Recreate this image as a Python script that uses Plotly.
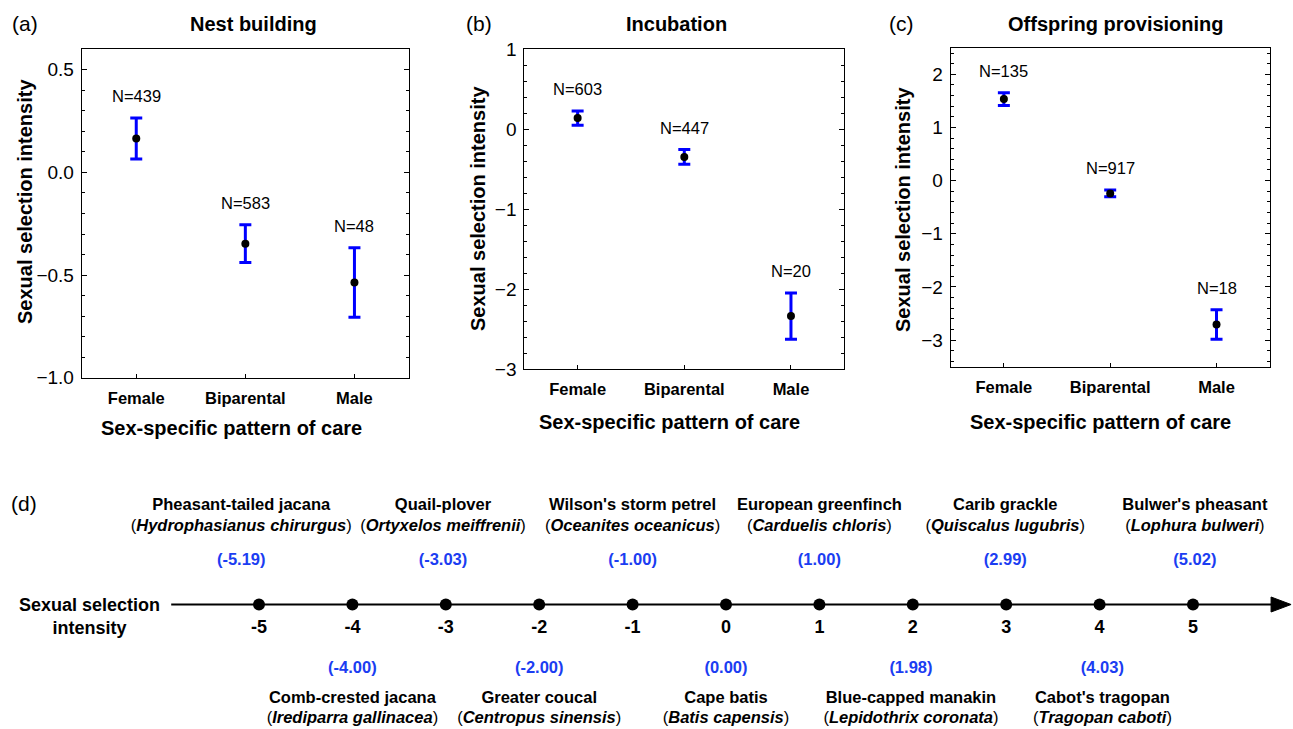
import plotly.graph_objects as go

W, H = 1293, 729
FONT = "Liberation Sans, Arial, Helvetica, sans-serif"
BLUE = "#0000ff"
TXT_BLUE = "#1b3df2"

# ---------------- data: panels (a)-(c) ----------------
categories = ["Female", "Biparental", "Male"]
cat_pos = [1, 2, 3]

nest_mean = [0.165, -0.347, -0.536]
nest_err = [0.100, 0.092, 0.169]
nest_n = [439, 583, 48]

incub_mean = [0.140, -0.345, -2.335]
incub_err = [0.090, 0.092, 0.290]
incub_n = [603, 447, 20]

prov_mean = [1.535, -0.240, -2.705]
prov_err = [0.120, 0.063, 0.278]
prov_n = [135, 917, 18]

panel_titles = ["Nest building", "Incubation", "Offspring provisioning"]
panel_letters = ["(a)", "(b)", "(c)"]

# ---------------- data: panel (d) ----------------
line_ticks = [-5, -4, -3, -2, -1, 0, 1, 2, 3, 4, 5]
top_common = ["Pheasant-tailed jacana", "Quail-plover", "Wilson's storm petrel",
              "European greenfinch", "Carib grackle", "Bulwer's pheasant"]
top_latin = ["Hydrophasianus chirurgus", "Ortyxelos meiffrenii", "Oceanites oceanicus",
             "Carduelis chloris", "Quiscalus lugubris", "Lophura bulweri"]
top_value = [-5.19, -3.03, -1.00, 1.00, 2.99, 5.02]
bot_common = ["Comb-crested jacana", "Greater coucal", "Cape batis",
              "Blue-capped manakin", "Cabot's tragopan"]
bot_latin = ["Irediparra gallinacea", "Centropus sinensis", "Batis capensis",
             "Lepidothrix coronata", "Tragopan caboti"]
bot_value = [-4.00, -2.00, 0.00, 1.98, 4.03]

# ---------------- layout geometry (pixels) ----------------
def px(x):
    return x / W

def py(y):
    return 1 - y / H

panels = [
    dict(mean=nest_mean, err=nest_err, n=nest_n, xdom=(81.7, 409.0), ydom=(49.3, 377.7),
         yrange=[-1.0, 0.6], dtick=0.5, minor=0.1, fmt=".1f",
         title_x=253, letter_x=25, ytitle_x=25, ytitle_y=202, xtitle_x=231, xtitle_y=428),
    dict(mean=incub_mean, err=incub_err, n=incub_n, xdom=(524.3, 844.3), ydom=(49.3, 369.3),
         yrange=[-3, 1], dtick=1, minor=0.2, fmt="d",
         title_x=677, letter_x=479, ytitle_x=478, ytitle_y=208, xtitle_x=669, xtitle_y=422),
    dict(mean=prov_mean, err=prov_err, n=prov_n, xdom=(950.7, 1269.7), ydom=(47.7, 366.7),
         yrange=[-3.5, 2.5], dtick=1, minor=0.2, fmt="d",
         title_x=1116, letter_x=901, ytitle_x=903, ytitle_y=210, xtitle_x=1100, xtitle_y=422),
]

fig = go.Figure()
annotations = []
shapes = []

def ann(x, y, text, size, weight="normal", **kw):
    d = dict(x=px(x), y=py(y), xref="paper", yref="paper", text=text, showarrow=False,
             xanchor="center", yanchor="middle",
             font=dict(family=FONT, size=size, color="black", weight=weight))
    d.update(kw)
    return d

for i, p in enumerate(panels):
    k = "" if i == 0 else str(i + 1)
    fig.add_trace(go.Scatter(
        x=cat_pos, y=p["mean"], mode="markers",
        marker=dict(color="black", size=8),
        error_y=dict(type="data", array=p["err"], symmetric=True,
                     color=BLUE, thickness=3, width=6),
        xaxis="x" + k, yaxis="y" + k, showlegend=False, hoverinfo="skip"))
    fig.update_layout(**{
        "xaxis" + k: dict(
            domain=[px(p["xdom"][0]), px(p["xdom"][1])], range=[0.5, 3.5],
            tickvals=cat_pos, ticktext=categories,
            tickfont=dict(family=FONT, size=16.5, color="black", weight="bold"),
            ticks="inside", ticklen=4, tickcolor="black", ticklabelstandoff=5,
            showline=True, linecolor="black", linewidth=1, mirror=True,
            showgrid=False, zeroline=False, anchor="y" + k, automargin=False),
        "yaxis" + k: dict(
            domain=[py(p["ydom"][1]), py(p["ydom"][0])], range=p["yrange"],
            dtick=p["dtick"], tick0=0, tickformat=p["fmt"],
            tickfont=dict(family=FONT, size=19, color="black"),
            ticks="inside", ticklen=5, tickcolor="black", ticklabelstandoff=3,
            minor=dict(dtick=p["minor"], tick0=0, ticks="inside", ticklen=3, tickcolor="black"),
            showline=True, linecolor="black", linewidth=1, mirror="allticks",
            showgrid=False, zeroline=False, anchor="x" + k, automargin=False),
    })
    # N labels above error bars
    for xv, m, e, n in zip(cat_pos, p["mean"], p["err"], p["n"]):
        annotations.append(dict(
            x=xv, y=m + e, xref="x" + k, yref="y" + k, text=f"N={n}", showarrow=False,
            xanchor="center", yanchor="middle",
            yshift=22, font=dict(family=FONT, size=16.5, color="black")))
    annotations.append(ann(p["title_x"], 24, panel_titles[i], 20, "bold"))
    annotations.append(ann(p["letter_x"], 24, panel_letters[i], 21))
    annotations.append(ann(p["ytitle_x"], p["ytitle_y"], "Sexual selection intensity", 20,
                           "bold", textangle=-90))
    annotations.append(ann(p["xtitle_x"], p["xtitle_y"], "Sex-specific pattern of care", 20,
                           "bold"))

# ---------------- panel (d): number line ----------------
UNIT = 93.4      # px per unit
ZERO_PX = 726.0  # px of value 0
AXIS_START, AXIS_END = -5.94, 6.05
HEAD_LEN, HEAD_HALF = 20 / UNIT, 7.5
ROW = dict(name_top=506, sci_top=527, val_top=561, line=604.5, tick=628.5,
           val_bot=668.5, name_bot=698.5, sci_bot=719)

fig.update_layout(
    xaxis4=dict(domain=[0, 1], range=[(0 - ZERO_PX) / UNIT, (W - ZERO_PX) / UNIT],
                visible=False, anchor="y4"),
    yaxis4=dict(domain=[0, py(478)], range=[H, 478], visible=False, anchor="x4"),
)

# axis line and arrow head of the number line
shapes.append(dict(type="line", xref="x4", yref="y4",
                   x0=AXIS_START, x1=AXIS_END - HEAD_LEN * 0.8,
                   y0=ROW["line"], y1=ROW["line"], line=dict(color="black", width=2)))
hb = AXIS_END - HEAD_LEN
shapes.append(dict(type="path", xref="x4", yref="y4",
                   path=f"M {hb},{ROW['line'] - HEAD_HALF} L {AXIS_END},{ROW['line']} "
                        f"L {hb},{ROW['line'] + HEAD_HALF} Z",
                   fillcolor="black", line=dict(color="black", width=1)))

fig.add_trace(go.Scatter(
    x=line_ticks, y=[ROW["line"]] * len(line_ticks), mode="markers",
    marker=dict(color="black", size=12), xaxis="x4", yaxis="y4",
    showlegend=False, hoverinfo="skip"))

def text_trace(xs, y, texts, size, color="black", weight="normal"):
    return go.Scatter(
        x=xs, y=[y] * len(xs), mode="text", text=texts, textposition="middle center",
        textfont=dict(family=FONT, size=size, color=color, weight=weight),
        xaxis="x4", yaxis="y4", showlegend=False, hoverinfo="skip", cliponaxis=False)

fig.add_trace(text_trace(line_ticks, ROW["tick"], [str(t) for t in line_ticks], 18, weight="bold"))
fig.add_trace(text_trace(top_value, ROW["name_top"], top_common, 16.5, weight="bold"))
fig.add_trace(text_trace(top_value, ROW["sci_top"],
                         [f"(<b><i>{s}</i></b>)" for s in top_latin], 16.5))
fig.add_trace(text_trace(top_value, ROW["val_top"], [f"({v:.2f})" for v in top_value],
                         16.5, color=TXT_BLUE, weight="bold"))
fig.add_trace(text_trace(bot_value, ROW["val_bot"], [f"({v:.2f})" for v in bot_value],
                         16.5, color=TXT_BLUE, weight="bold"))
fig.add_trace(text_trace(bot_value, ROW["name_bot"], bot_common, 16.5, weight="bold"))
fig.add_trace(text_trace(bot_value, ROW["sci_bot"],
                         [f"(<b><i>{s}</i></b>)" for s in bot_latin], 16.5))

annotations.append(ann(89, 616.5, "Sexual selection<br>intensity", 18, "bold"))
annotations.append(ann(24, 503, "(d)", 21))

fig.update_layout(
    width=W, height=H, margin=dict(l=0, r=0, t=0, b=0, autoexpand=False),
    paper_bgcolor="white", plot_bgcolor="white",
    annotations=annotations, shapes=shapes, showlegend=False,
)

fig.write_html("out.html", config={"displayModeBar": False},
               post_script="document.body.style.margin='0';document.body.style.overflow='hidden';")
